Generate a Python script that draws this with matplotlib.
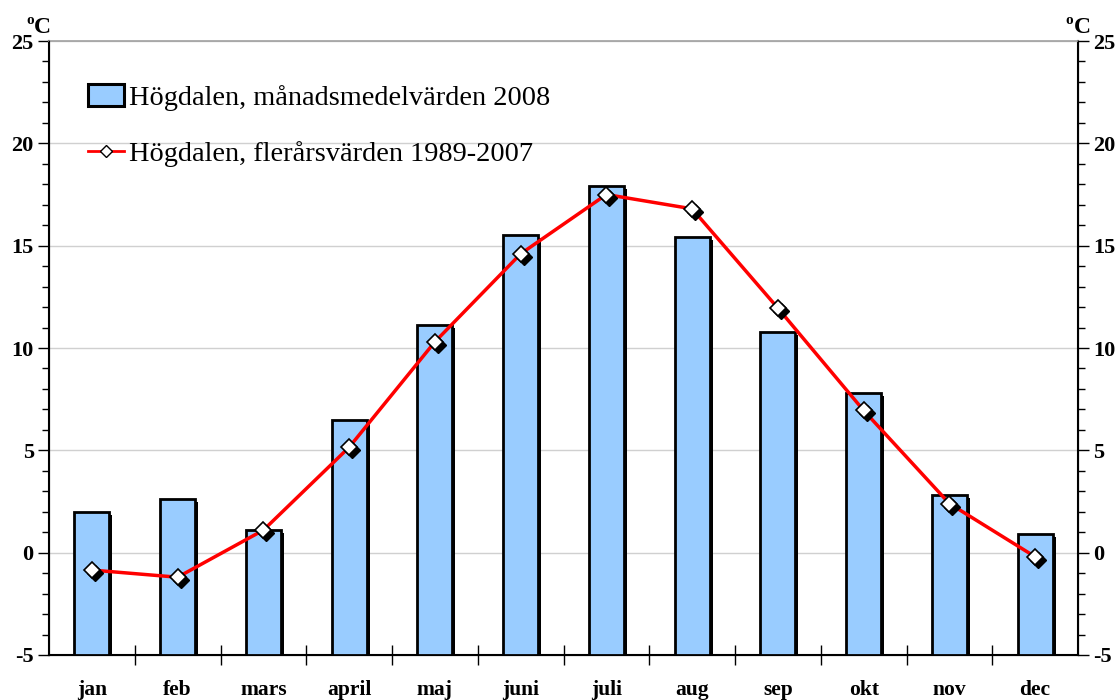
import matplotlib
matplotlib.use("Agg")
import matplotlib.pyplot as plt
import matplotlib.transforms as mtransforms
from matplotlib.patches import Patch
from matplotlib.lines import Line2D
import numpy as np

months = ['jan', 'feb', 'mars', 'april', 'maj', 'juni', 'juli', 'aug', 'sep', 'okt', 'nov', 'dec']
temp_2008 = [2.0, 2.6, 1.1, 6.5, 11.1, 15.5, 17.9, 15.4, 10.8, 7.8, 2.8, 0.9]
temp_1989_2007 = [-0.85, -1.2, 1.1, 5.15, 10.3, 14.6, 17.5, 16.8, 11.95, 6.95, 2.4, -0.2]

plt.rcParams['font.family'] = ['Liberation Serif', 'DejaVu Serif']
plt.rcParams['axes.unicode_minus'] = False

fig = plt.figure(figsize=(11.2, 7), dpi=100)
ax = fig.add_axes([0.04375, 0.0643, 0.91875, 0.8771])

x = np.arange(len(months))
bw = 0.41
ymin = -5
heights = [v - ymin for v in temp_2008]

# shadows behind the bars and markers
shadow = mtransforms.offset_copy(ax.transData, fig=fig, x=3, y=-3, units='dots')
ax.bar(x, heights, bw, bottom=ymin, color='black', transform=shadow, zorder=2)
ax.bar(x, heights, bw, bottom=ymin, color='#99ccff', edgecolor='black', linewidth=2, zorder=3)

ax.plot(x, temp_1989_2007, color='red', lw=2.5, zorder=4)
ax.plot(x, temp_1989_2007, ls='none', marker='D', ms=8, mfc='black', mec='black',
        transform=shadow, zorder=5)
ax.plot(x, temp_1989_2007, ls='none', marker='D', ms=8, mfc='white', mec='black',
        mew=1.2, zorder=6)

ax.set_xlim(-0.5, 11.5)
ax.set_ylim(-5, 25)
ax.set_yticks(range(-5, 26, 5))
ax.set_yticks(range(-5, 26, 1), minor=True)
ax.yaxis.grid(True, color='#d0d0d0', lw=1, zorder=0)
ax.set_axisbelow(True)

ax.set_xticks(np.arange(0.5, 11, 1))
ax.set_xticklabels([])
ax.tick_params(axis='x', direction='inout', length=14, width=1, color='black')
for i, m in enumerate(months):
    ax.text(i, -6.2, m, ha='center', va='top', fontsize=15.5, fontweight='bold',
            clip_on=False)

ax.tick_params(axis='y', which='major', direction='out', length=8, width=1,
               labelsize=16, pad=3)
ax.tick_params(axis='y', which='minor', direction='out', length=5, width=1)
for lab in ax.get_yticklabels():
    lab.set_fontweight('bold')

ax.spines['top'].set_color('#a0a0a0')
ax.spines['top'].set_linewidth(1.2)
for s in ['left', 'right', 'bottom']:
    ax.spines[s].set_linewidth(1.5)

ax2 = ax.twinx()
ax2.set_ylim(-5, 25)
ax2.set_yticks(range(-5, 26, 5))
ax2.set_yticks(range(-5, 26, 1), minor=True)
ax2.tick_params(axis='y', which='major', direction='out', length=8, width=1,
                labelsize=16, pad=3)
ax2.tick_params(axis='y', which='minor', direction='out', length=5, width=1)
for lab in ax2.get_yticklabels():
    lab.set_fontweight('bold')
ax2.spines['top'].set_visible(False)

# degree labels
fig.text(0.0235, 0.962, 'o', fontsize=11, fontweight='bold', ha='left', va='bottom')
fig.text(0.0305, 0.946, 'C', fontsize=17, fontweight='bold', ha='left', va='bottom')
fig.text(0.9515, 0.962, 'o', fontsize=11, fontweight='bold', ha='left', va='bottom')
fig.text(0.9585, 0.946, 'C', fontsize=17, fontweight='bold', ha='left', va='bottom')

handles = [Patch(facecolor='#99ccff', edgecolor='black', linewidth=2.2),
           Line2D([], [], color='red', lw=2, marker='D', ms=6, mfc='white', mec='black')]
labels = ['Högdalen, månadsmedelvärden 2008', 'Högdalen, flerårsvärden 1989-2007']
ax.legend(handles, labels, loc='upper left', bbox_to_anchor=(0.038, 0.93), frameon=False,
          fontsize=20.4, handlelength=1.25, handleheight=0.8, handletextpad=0.2,
          labelspacing=1.05, borderaxespad=0, borderpad=0)

fig.savefig('out.png', dpi=100)
